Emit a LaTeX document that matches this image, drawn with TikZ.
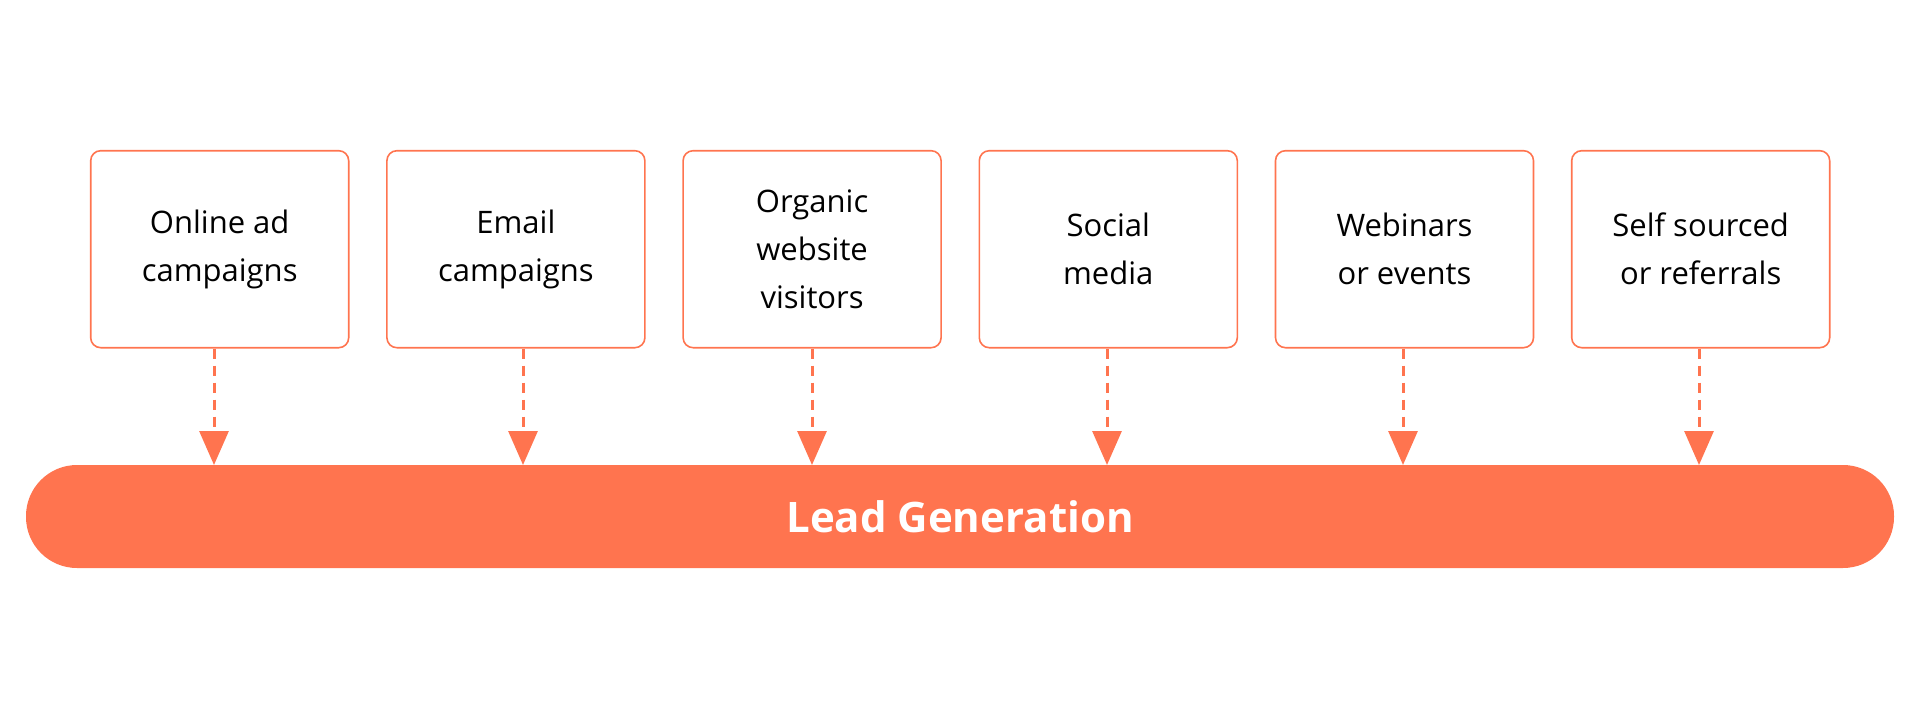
\documentclass[tikz,border=0pt]{standalone}
\usepackage{fontspec}
\setmainfont{Open Sans}
\usetikzlibrary{arrows.meta}
\definecolor{org}{HTML}{FF744F}
\begin{document}
\begin{tikzpicture}[x=1pt,y=-1pt,
  src/.style={draw=org,line width=1.6pt,rounded corners=10pt,minimum width=258pt,minimum height=197pt,align=center,font=\fontsize{31}{48}\selectfont,text=black},
  conn/.style={draw=org,line width=3pt,dash pattern=on 10pt off 7pt,-{Triangle[length=34pt,width=29pt,color=org]}}]
\useasboundingbox (0,0) rectangle (1920,720);
\node[fill=org,rounded corners=51pt,minimum width=1868pt,minimum height=103pt,text=white,font=\fontsize{42}{50}\selectfont\bfseries] (lead) at (960,516.5) {Lead Generation};
\foreach \i/\t/\ax in {0/{Online ad\\campaigns}/214, 1/{Email\\campaigns}/523, 2/{Organic\\website\\visitors}/812, 3/{Social\\media}/1107, 4/{Webinars\\or events}/1403, 5/{Self sourced\\or referrals}/1699}{
  \node[src] (b\i) at ({219.7+\i*296.2},249.2) {\t};
  \coordinate (t\i) at (\ax,465);
  \draw[conn] (b\i.south -| t\i) -- (t\i);
}
\end{tikzpicture}
\end{document}
